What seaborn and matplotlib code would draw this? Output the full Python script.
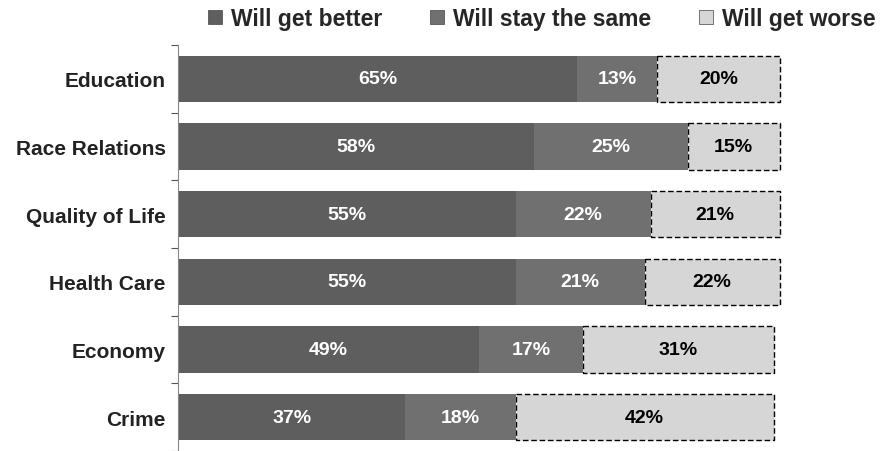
import matplotlib
matplotlib.use("Agg")
import matplotlib.pyplot as plt
import seaborn as sns
import pandas as pd
import numpy as np
from matplotlib.patches import Patch

categories = ["Education", "Race Relations", "Quality of Life", "Health Care", "Economy", "Crime"]
better = [65, 58, 55, 55, 49, 37]
same = [13, 25, 22, 21, 17, 18]
worse = [20, 15, 21, 22, 31, 42]
series_names = ["Will get better", "Will stay the same", "Will get worse"]

c_better = "#5e5e5e"
c_same = "#707070"
c_worse = "#d6d6d6"

sns.set_theme(style="white")
plt.rcParams["font.family"] = ["Liberation Sans", "DejaVu Sans"]

df = pd.DataFrame({"cat": categories, "better": better, "same": same, "worse": worse})
df["bs"] = df["better"] + df["same"]
df["total"] = df["bs"] + df["worse"]

fig = plt.figure(figsize=(8.88, 4.52), dpi=100)
ax = fig.add_axes([178 / 888, 0.0, 700 / 888, 1 - 46 / 452])

# light layer (worse)
sns.barplot(data=df, x="total", y="cat", orient="h", color=c_worse, width=0.68,
            edgecolor="black", linewidth=1.0, linestyle=(0, (4, 2)), ax=ax, saturation=1)
for p, b in zip(ax.patches, df["bs"]):
    p.set_x(b)
    p.set_width(p.get_width() - b)
sns.barplot(data=df, x="bs", y="cat", orient="h", color=c_same, width=0.68,
            linewidth=0, ax=ax, saturation=1)
sns.barplot(data=df, x="better", y="cat", orient="h", color=c_better, width=0.68,
            linewidth=0, ax=ax, saturation=1)

lab_fs = 14
for i, row in df.iterrows():
    ax.text(row["better"] / 2, i, f"{row['better']}%", ha="center", va="center",
            color="white", fontsize=lab_fs, fontweight="bold")
    ax.text(row["better"] + row["same"] / 2, i, f"{row['same']}%", ha="center", va="center",
            color="white", fontsize=lab_fs, fontweight="bold")
    ax.text(row["bs"] + row["worse"] / 2, i, f"{row['worse']}%", ha="center", va="center",
            color="black", fontsize=lab_fs, fontweight="bold")

ax.set_xlim(0, 114)
ax.set_ylim(5.5, -0.5)
ax.set_xlabel("")
ax.set_ylabel("")
ax.set_xticks([])
ax.set_yticks(range(len(categories)))
ax.set_yticklabels(categories, fontsize=15, fontweight="bold", color="#222222")
ax.set_yticks(np.arange(-0.5, len(categories), 1.0), minor=True)
ax.tick_params(axis="y", which="major", length=0, pad=9)
ax.tick_params(axis="y", which="minor", length=5, width=0.8, color="#555555", left=True)
for s in ["top", "right", "bottom"]:
    ax.spines[s].set_visible(False)
ax.spines["left"].set_color("#888888")
ax.spines["left"].set_linewidth(0.8)

handles = [Patch(facecolor=c_better, edgecolor="#444444", linewidth=0.5),
           Patch(facecolor=c_same, edgecolor="#444444", linewidth=0.5),
           Patch(facecolor=c_worse, edgecolor="#444444", linewidth=0.5)]
fig.legend(handles, series_names, loc="upper center", bbox_to_anchor=(542 / 888, 1.028), ncol=3,
           frameon=False, prop={"weight": "bold", "size": 16.5}, handlelength=0.6,
           handleheight=0.6, handletextpad=0.4, columnspacing=2.1)

fig.savefig("out.png", dpi=100, facecolor="white")
